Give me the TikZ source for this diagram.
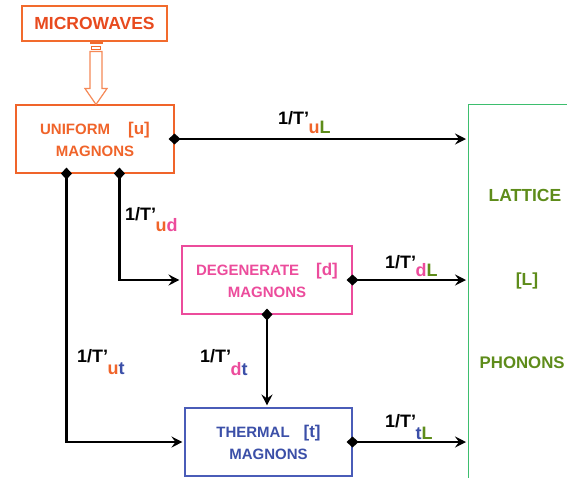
\documentclass[tikz,border=0pt]{standalone}
\usepackage{fontspec}
\setmainfont{Liberation Sans}
\usetikzlibrary{arrows.meta,calc}
\definecolor{mwred}{HTML}{E84A1E}
\definecolor{mwline}{HTML}{F26B2D}
\definecolor{uorange}{HTML}{F0642A}
\definecolor{dpink}{HTML}{EC4C9C}
\definecolor{tblue}{HTML}{3B4FA8}
\definecolor{tline}{HTML}{4A5CB8}
\definecolor{lgreen}{HTML}{3DBE6E}
\definecolor{ltext}{HTML}{5E8C1A}
\newcommand\su{\textcolor{uorange}{u}}
\newcommand\sd{\textcolor{dpink}{d}}
\newcommand\st{\textcolor{tblue}{t}}
\newcommand\sL{\textcolor{ltext}{L}}
\newcommand\ratetxt[2]{1/T’\hspace{-0.5pt}\raisebox{-#1pt}{#2}}
\begin{document}
\begin{tikzpicture}[x=1pt,y=-1pt,
  box/.style={draw, line width=1.1pt, fill=white, align=center, inner sep=0pt,
    font=\bfseries\fontsize{15}{22}\selectfont},
  conn/.style={line width=2.4pt,
    {Diamond[length=12pt,width=11pt]}-{Stealth[length=11pt,width=11pt,inset=4pt]},
    shorten <=-6pt, shorten >=2pt},
  rate/.style={font=\bfseries\fontsize{18}{18}\selectfont, anchor=base west, inner sep=0pt},
  lattxt/.style={text=ltext, font=\bfseries\fontsize{17.5}{17.5}\selectfont, inner sep=0pt},
  hollow/.style={draw=mwline!80, line width=1.2pt, fill=white}]
\useasboundingbox (0,0) rectangle (567,477);
\clip (0,0) rectangle (567,477);
% boxes
\node[box, draw=mwline, text=mwred, minimum width=145pt, minimum height=35pt,
  font=\bfseries\fontsize{17.5}{17.5}\selectfont] (mw) at (94.5,23.5) {MICROWAVES};
\node[box, draw=uorange, text=uorange, minimum width=158pt, minimum height=68pt] (uni) at (95,139)
  {UNIFORM\hspace{18pt}{\fontsize{17}{17}\selectfont[u]}\\MAGNONS};
\node[box, draw=dpink, text=dpink, minimum width=170pt, minimum height=68pt] (deg) at (267,280)
  {DEGENERATE\hspace{17pt}{\fontsize{17}{17}\selectfont[d]}\\MAGNONS};
\node[box, draw=tline, text=tblue, minimum width=167pt, minimum height=68pt] (the) at (268.5,442)
  {THERMAL\hspace{14pt}{\fontsize{17}{17}\selectfont[t]}\\MAGNONS};
\node[draw=lgreen, line width=1.1pt, minimum width=160pt, minimum height=420pt, inner sep=0pt,
  anchor=north west] (lat) at (468,104) {};
\node[lattxt] (latA) at (525,195) {LATTICE};
\node[lattxt] (latB) at (527,281) {[L]};
\node[lattxt, anchor=west, font=\bfseries\fontsize{16.8}{16.8}\selectfont] (latC) at (479.5,363) {PHONONS};
% microwave hollow arrow
\coordinate (ha) at ($(mw.south)+(1.5,0)$);
\fill[mwline] ($(ha)+(-6.5,-1)$) rectangle ($(ha)+(6.5,2)$);
\draw[mwline, line width=0.8pt] ($(ha)+(-4.5,4.5)$) rectangle ($(ha)+(4.5,8)$);
\draw[hollow] ($(ha)+(-6,10)$) -- ($(ha)+(6,10)$) -- ($(ha)+(6,47)$) -- ($(ha)+(11,47)$)
  -- (ha |- uni.north) -- ($(ha)+(-11,47)$) -- ($(ha)+(-6,47)$) -- cycle;
% connectors
\coordinate (u1) at ($(uni.south west)+(51,0)$);
\coordinate (u2) at ($(uni.south west)+(104,0)$);
\draw[conn] (uni.east) -- (uni.east -| lat.west);
\draw[conn] (deg.east) -- (deg.east -| lat.west);
\draw[conn] (the.east) -- (the.east -| lat.west);
\draw[conn] (u2) |- (deg.west);
\draw[conn] (u1) |- (the.west);
\draw[conn] (deg.south) -- (deg.south |- the.north);
% rate labels
\node[rate] (ruL) at (278,124) {\ratetxt{9}{\su\sL}};
\node[rate] (rud) at (125,220) {\ratetxt{11}{\su\sd}};
\node[rate] (rdL) at (385,268) {\ratetxt{8}{\sd\sL}};
\node[rate] (rtL) at (385,427) {\ratetxt{12}{\st\sL}};
\node[rate] (rut) at (77,362) {\ratetxt{12}{\su\st}};
\node[rate] (rdt) at (200,362) {\ratetxt{13}{\sd\st}};
\end{tikzpicture}
\end{document}
